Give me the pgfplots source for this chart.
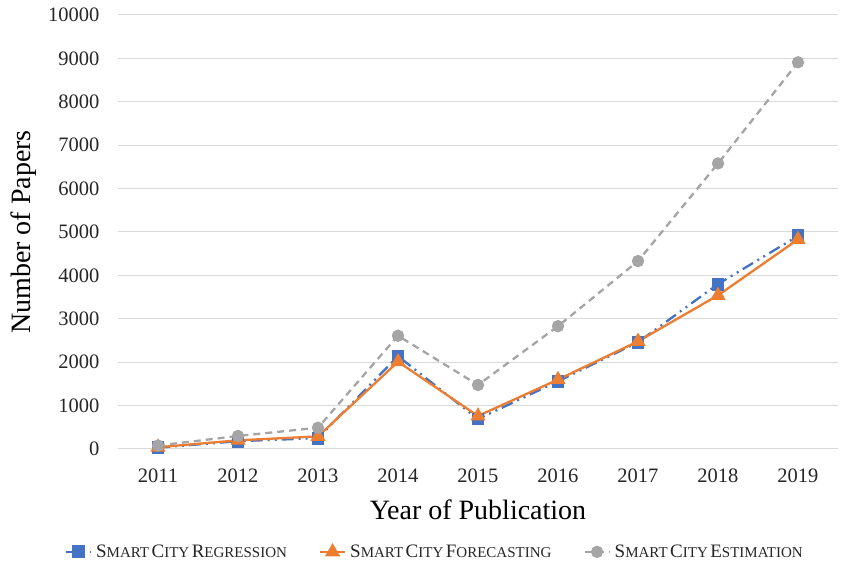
\documentclass[border=0pt]{standalone}
\usepackage{pgfplots}
\pgfplotsset{compat=1.18}
\usepackage{fontspec}
\setmainfont{Liberation Serif}
\definecolor{cblue}{HTML}{4472C4}
\definecolor{corange}{HTML}{ED7D31}
\definecolor{cgray}{HTML}{A5A5A5}
\definecolor{gridc}{HTML}{D9D9D9}
\definecolor{txt}{HTML}{262626}
\newcommand{\fsc}[2]{{\fontsize{19bp}{20bp}\selectfont #1}{\fontsize{15bp}{16bp}\selectfont #2}}
\pgfplotstableread{
year reg fore est
2011 30 40 80
2012 180 200 300
2013 250 290 490
2014 2140 2010 2610
2015 690 760 1475
2016 1560 1600 2830
2017 2460 2480 4330
2018 3800 3540 6580
2019 4910 4830 8910
}\data
\begin{document}
\begin{tikzpicture}[x=1bp,y=1bp]
\path[use as bounding box] (0,0) rectangle (851,565);
\begin{axis}[
  at={(118bp,116bp)}, anchor=south west,
  scale only axis, width=720bp, height=434bp,
  xmin=2010.5, xmax=2019.5, ymin=0, ymax=10000,
  xtick={2011,...,2019}, ytick={0,1000,...,10000},
  scaled y ticks=false, scaled x ticks=false,
  xticklabel style={/pgf/number format/1000 sep={}, yshift=-16bp},
  yticklabel style={/pgf/number format/1000 sep={}, xshift=-15bp},
  /pgf/number format/assume math mode=true,
  tick label style={font=\fontsize{20.5bp}{22bp}\selectfont, text=txt},
  major tick length=0pt,
  xmajorgrids=false, ymajorgrids=true, grid style={draw=gridc, line width=1bp},
  axis line style={draw=none},
  xlabel={Year of Publication}, ylabel={Number of Papers},
  label style={font=\fontsize{28bp}{30bp}\selectfont, text=black},
  xlabel style={yshift=-11bp},
  ylabel style={at={(axis description cs:-0.1306,0.5)}, anchor=center},
  legend columns=3,
  legend style={at={(0.44,-0.237)}, anchor=center, draw=none, fill=none,
    text=txt, /tikz/every even column/.append style={column sep=30bp},
    /tikz/every odd column/.append style={column sep=2bp}},
  legend cell align=left,
  legend image code/.code={\draw[mark repeat=2,mark phase=2,#1] plot coordinates {(0bp,0bp) (12.5bp,0bp) (25bp,0bp)};},
]
\draw[gridc, line width=1bp] (axis cs:2010.5,0) -- (axis cs:2019.5,0);
\addplot[cblue, line width=2.3bp, dash pattern=on 12bp off 5bp on 2bp off 5bp on 2bp off 5bp,
  mark=square*, mark size=5.3bp, mark options={solid}] table[x=year,y=reg] {\data};
\addlegendentry{\fsc{S}{MART} \fsc{C}{ITY} \fsc{R}{EGRESSION}}
\addplot[corange, line width=2.3bp, mark=triangle*, mark size=6.5bp, mark options={solid}] table[x=year,y=fore] {\data};
\addlegendentry{\fsc{S}{MART} \fsc{C}{ITY} \fsc{F}{ORECASTING}}
\addplot[cgray, line width=2.3bp, dash pattern=on 7bp off 5bp,
  mark=*, mark size=5bp, mark options={solid}] table[x=year,y=est] {\data};
\addlegendentry{\fsc{S}{MART} \fsc{C}{ITY} \fsc{E}{STIMATION}}
\end{axis}
\end{tikzpicture}
\end{document}
